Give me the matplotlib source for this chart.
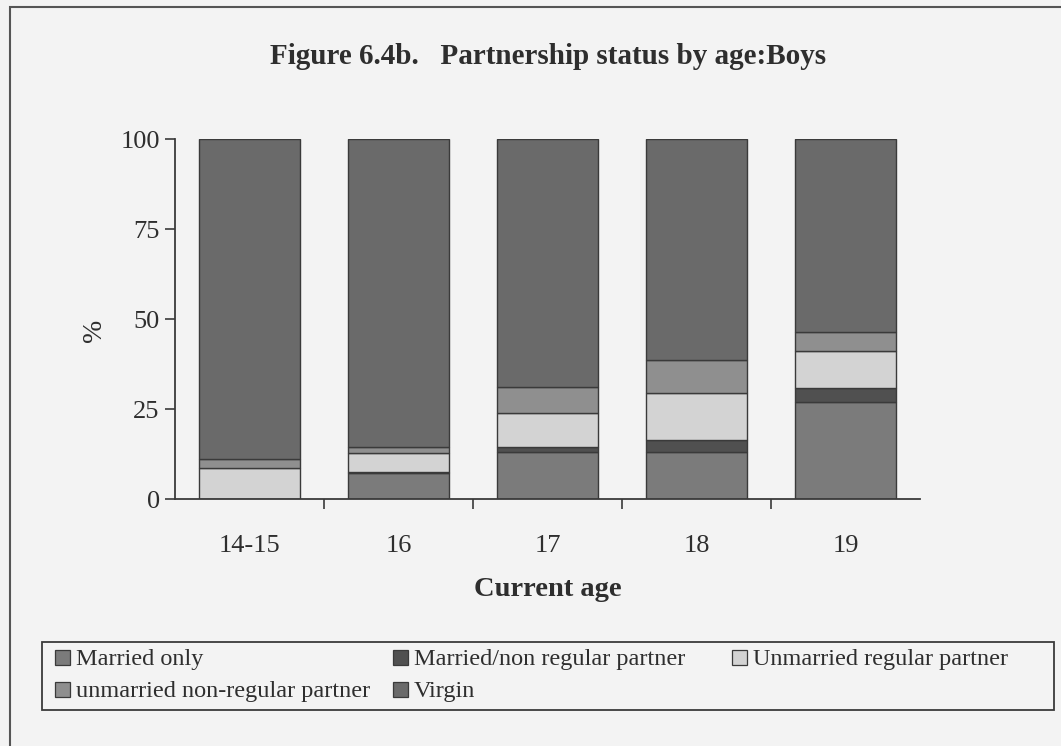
import matplotlib
matplotlib.use("Agg")
import matplotlib.pyplot as plt
from matplotlib.patches import Rectangle
import numpy as np

plt.rcParams['font.family'] = ['Liberation Serif', 'DejaVu Serif']

categories = ["14-15", "16", "17", "18", "19"]
married_only = [0.0, 7.3, 13.1, 13.1, 27.0]
married_nonreg = [0.0, 0.3, 1.4, 3.4, 3.7]
unmarried_reg = [8.6, 5.1, 9.3, 12.9, 10.5]
unmarried_nonreg = [2.5, 1.7, 7.2, 9.1, 5.1]
virgin = [88.9, 85.6, 69.0, 61.5, 53.7]

series_names = ["Married only", "Married/non regular partner",
                "Unmarried regular partner", "unmarried non-regular partner", "Virgin"]
series_values = [married_only, married_nonreg, unmarried_reg, unmarried_nonreg, virgin]
series_colors = ["#7b7b7b", "#505050", "#d3d3d3", "#8f8f8f", "#6a6a6a"]

bg = "#f3f3f3"
txt = "#2e2e2e"
edge = "#3a3a3a"
W, H = 1061, 746

fig = plt.figure(figsize=(W/100, H/100), dpi=100, facecolor=bg)
ax = fig.add_axes([175/W, 1-499/H, (920-175)/W, (499-139)/H])
ax.set_facecolor(bg)

x = np.arange(len(categories))
bottom = np.zeros(len(categories))
for name, vals, col in zip(series_names, series_values, series_colors):
    v = np.array(vals)
    ax.bar(x, v, 0.68, bottom=bottom, color=col, edgecolor=edge, linewidth=1.0, label=name)
    bottom += v

ax.set_xlim(-0.5, 4.5)
ax.set_ylim(0, 100)
ax.set_yticks([0, 25, 50, 75, 100])
ax.set_xticks(x)
ax.set_xticklabels(categories)
ax.set_xticks(np.arange(0.5, 4.5, 1.0), minor=True)
ax.tick_params(axis='x', which='major', length=0, pad=26, labelsize=19, colors=txt)
ax.tick_params(axis='x', which='minor', length=7, width=1.2, color=edge, direction='out')
ax.tick_params(axis='y', length=7, width=1.2, color=edge, pad=4, labelsize=19, labelcolor=txt)
for s in ['top', 'right']:
    ax.spines[s].set_visible(False)
for s in ['left', 'bottom']:
    ax.spines[s].set_color(edge)
    ax.spines[s].set_linewidth(1.3)

fig.text(548/W, 1-57/H, "Figure 6.4b.   Partnership status by age:Boys",
         ha='center', va='center', fontsize=21, fontweight='bold', color=txt)
fig.text(548/W, 1-589/H, "Current age", ha='center', va='center',
         fontsize=20.5, fontweight='bold', color=txt)
fig.text(95/W, 1-330/H, "%", ha='center', va='center', rotation=90,
         fontsize=20, color=txt)

# Legend (manual layout to match column positions)
fig.add_artist(Rectangle((42/W, 1-710/H), (1054-42)/W, (710-642)/H,
                         transform=fig.transFigure, facecolor=bg,
                         edgecolor=edge, linewidth=1.3))
slots = {  # name -> (patch x px, row y px)
    "Married only": (55, 660),
    "Married/non regular partner": (393, 660),
    "Unmarried regular partner": (732, 660),
    "unmarried non-regular partner": (55, 692),
    "Virgin": (393, 692),
}
ps = 15
for name, col in zip(series_names, series_colors):
    px, py = slots[name]
    fig.add_artist(Rectangle((px/W, 1-(py+ps/2-3)/H), ps/W, ps/H,
                             transform=fig.transFigure, facecolor=col,
                             edgecolor=edge, linewidth=0.9))
    fig.text((px+ps+6)/W, 1-py/H, name, ha='left', va='center',
             fontsize=17.5, color=txt)

fig.add_artist(Rectangle((10/W, -0.05), 1.2, 1.05 - 7/H,
                         transform=fig.transFigure, fill=False,
                         edgecolor="#555555", linewidth=1.5))

fig.savefig("out.png", dpi=100, facecolor=bg)
